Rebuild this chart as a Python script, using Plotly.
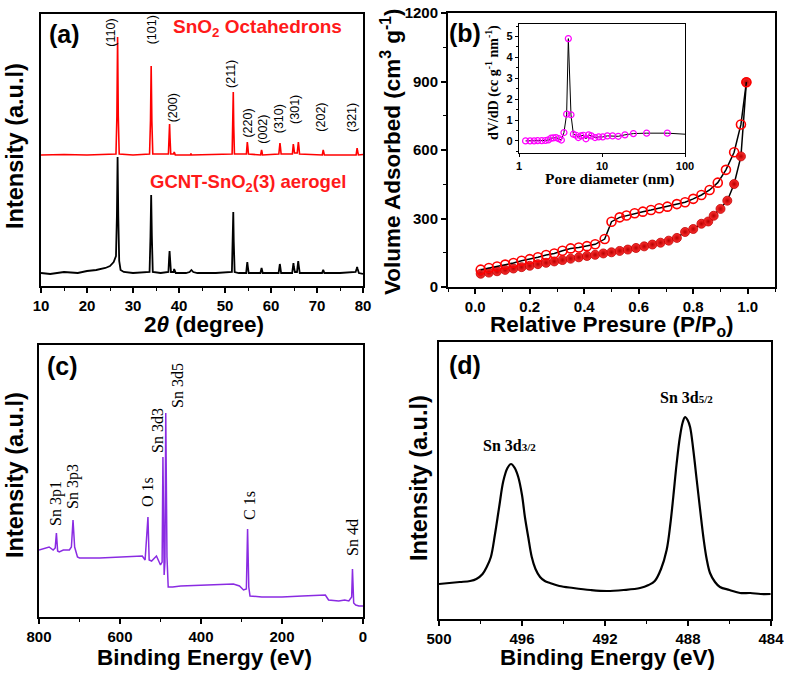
import plotly.graph_objects as go

W, H = 787, 673

# ---------------- (a) XRD ----------------
xrd_red_2theta = [10, 15, 20, 25, 26.3, 26.5, 26.65, 26.8, 27.0, 30, 33.6, 33.8, 33.95, 34.1, 34.3,
                  37.7, 37.85, 37.95, 38.05, 38.2, 38.85, 38.95, 39.05, 39.2, 42.5, 42.6, 42.7,
                  51.55, 51.7, 51.8, 51.9, 52.05, 54.65, 54.78, 54.85, 54.95, 55.1,
                  57.75, 57.85, 57.95, 58.05, 58.15, 61.7, 61.85, 61.95, 62.05, 62.2,
                  64.65, 64.78, 64.85, 64.95, 65.1, 65.7, 65.85, 65.95, 66.05, 66.2,
                  71.15, 71.25, 71.35, 71.45, 71.6, 78.5, 78.62, 78.72, 78.82, 79.0, 80]
xrd_red_int = [131, 131.5, 131, 131.5, 132, 170, 249, 170, 132, 131, 132, 165, 220, 165, 132,
               132, 148, 162, 148, 132, 132, 134, 133, 131, 131, 132.5, 131,
               132, 160, 194, 160, 132, 132, 140, 144, 140, 132,
               131, 134, 136, 134, 131, 132, 139, 143, 139, 132,
               132, 139, 142, 139, 133, 133, 140, 144, 140, 132,
               131, 134, 136, 134, 131, 131, 135, 138, 135, 131, 131.5]

xrd_blk_2theta = [10, 12, 15, 18, 20, 22, 24, 25, 25.8, 26.3, 26.5, 26.65, 26.8, 27.0, 27.3, 28, 30,
                  33.6, 33.8, 33.95, 34.1, 34.3, 36, 37.7, 37.85, 37.95, 38.05, 38.25, 38.85, 38.95, 39.1, 39.3,
                  41.5, 42.3, 42.7, 43.1, 44, 48, 51.5, 51.7, 51.8, 51.9, 52.1, 53,
                  54.6, 54.75, 54.85, 54.95, 55.15, 57.7, 57.85, 57.95, 58.05, 58.2,
                  61.65, 61.82, 61.92, 62.02, 62.2, 64.6, 64.78, 64.88, 64.98, 65.2,
                  65.65, 65.82, 65.92, 66.02, 66.25, 68, 71.1, 71.25, 71.35, 71.45, 71.6,
                  75, 78.4, 78.6, 78.72, 78.84, 79.1, 80]
xrd_blk_int = [13, 12, 14, 13, 15, 16, 18, 20, 24, 30, 70, 129, 70, 25, 16, 14, 13,
               14, 50, 91, 50, 14, 13, 14, 28, 35, 28, 14, 14, 17, 15, 13,
               13, 14, 16, 14, 13, 13, 14, 45, 74, 45, 14, 13,
               13, 20, 24, 20, 13, 13, 16, 18, 16, 13,
               13, 19, 22, 19, 13, 13, 19, 23, 19, 14,
               14, 21, 25, 21, 13, 13, 13, 15, 16, 15, 13,
               13, 14, 17, 19, 17, 13, 12]

xrd_labels = ["(110)", "(101)", "(200)", "(211)", "(220)", "(002)", "(310)", "(301)", "(202)", "(321)"]
xrd_label_x = [25.15, 34.2, 38.76, 51.3, 54.9, 58.2, 61.8, 65.2, 70.8, 77.6]
xrd_label_y = [253, 256, 178, 212, 163, 157, 167, 177, 169, 169]

# ---------------- (b) N2 isotherm ----------------
p_ads = [0.02, 0.05, 0.08, 0.11, 0.14, 0.17, 0.20, 0.23, 0.26, 0.29, 0.32, 0.35, 0.38, 0.41, 0.44,
         0.47, 0.50, 0.53, 0.56, 0.59, 0.62, 0.65, 0.68, 0.71, 0.74, 0.77, 0.80, 0.83, 0.855,
         0.875, 0.90, 0.925, 0.95, 0.975, 0.995]
v_ads = [58, 63, 69, 75, 81, 87, 93, 100, 106, 112, 118, 124, 130, 136, 141,
         147, 152, 158, 164, 171, 178, 186, 194, 203, 215, 241, 254, 277, 287,
         312, 342, 378, 451, 572, 897]
p_des = [0.02, 0.05, 0.08, 0.11, 0.14, 0.17, 0.20, 0.23, 0.26, 0.29, 0.32, 0.35, 0.38, 0.41, 0.44,
         0.475, 0.50, 0.53, 0.555, 0.585, 0.615, 0.645, 0.675, 0.705, 0.74, 0.77, 0.80, 0.83,
         0.86, 0.89, 0.92, 0.95, 0.975, 0.995]
v_des = [76, 83, 90, 98, 105, 115, 122, 130, 140, 147, 159, 169, 173, 179, 187,
         210, 286, 305, 313, 323, 330, 337, 345, 352, 363, 371, 386, 403,
         425, 457, 513, 590, 712, 897]

# inset: pore size distribution
pore_d = [1.20, 1.36, 1.52, 1.68, 1.88, 2.08, 2.26, 2.43, 2.59, 2.79, 3.01, 3.24, 3.48, 3.75, 3.93,
          4.23, 4.52, 4.86, 5.19, 5.58, 5.96, 6.41, 6.91, 7.43, 8.24, 9.12, 10.2, 11.6, 13.4,
          15.7, 18.9, 23.9, 34.5, 61.2, 100]
pore_dv = [0.0, 0.0, 0.0, 0.01, 0.01, 0.02, 0.05, 0.13, 0.14, 0.16, 0.11, 0.04, 0.40, 1.28, 4.90,
           1.25, 0.32, 0.27, 0.16, 0.24, 0.27, 0.10, 0.29, 0.24, 0.16, 0.19, 0.19, 0.24, 0.24,
           0.22, 0.29, 0.35, 0.37, 0.37, 0.32]
pore_marker_n = 34  # last value is the line end (no marker)

# ---------------- (c) XPS survey ----------------
xps_be = [800, 790, 775, 765, 760, 757, 754, 750, 740, 725, 720, 716, 712, 705, 700, 650, 600, 560,
          545, 538, 531, 528, 522, 510, 500, 496, 494, 491, 489, 487, 484, 481, 470, 450, 400, 350,
          320, 305, 295, 288, 285, 282, 279, 250, 200, 150, 100, 93, 85, 60, 45, 35, 28, 26, 23, 18,
          10, 0]
xps_int = [67, 68, 70, 67, 69, 84, 66, 65, 67, 67, 70, 97, 70, 60, 59, 59, 60, 61,
           61, 57, 100, 57, 56, 61, 52, 55, 160, 42, 55, 204, 60, 30, 30, 31, 32, 33,
           33, 31, 27, 28, 88, 30, 21, 20, 20, 21, 22, 22, 17, 16, 17, 16, 20, 48, 14, 12,
           11, 11]
xps_labels = ["Sn 3p1", "Sn 3p3", "O 1s", "Sn 3d3", "Sn 3d5", "C 1s", "Sn 4d"]
xps_label_px = [(56, 504), (73, 487), (148, 492), (158, 431), (177, 386), (249, 506), (352, 538)]

# ---------------- (d) Sn 3d ----------------
sn_be = [500.0, 499.5, 499.0, 498.5, 498.2, 497.9, 497.7, 497.5, 497.3, 497.1, 496.9, 496.7, 496.53,
         496.35, 496.18, 496.0, 495.86, 495.7, 495.53, 495.35, 495.13, 494.9, 494.65, 494.2, 493.53,
         492.7, 491.92, 491.1, 490.31, 489.9, 489.6, 489.3, 489.03, 488.85, 488.71, 488.55, 488.39,
         488.25, 488.14, 488.02, 487.9, 487.75, 487.58, 487.42, 487.26, 487.1, 486.94, 486.7, 486.46,
         486.0, 485.49, 485.0, 484.5, 484.02]
sn_int = [35, 36, 37, 38, 40, 45, 52, 62, 85, 112, 138, 151, 155,
          151, 142, 124, 102, 82, 62, 50, 42, 38, 36, 33, 31,
          29, 28, 29, 31, 34, 38, 50, 69, 95, 122, 155, 182,
          197, 202, 199, 192, 170, 139, 110, 82, 60, 46, 37, 32,
          29, 26, 26, 25, 25]

# ---------------- figure ----------------
def dx(a, b):
    return [a / W, b / W]

def dy(top, bottom):
    return [1 - bottom / H, 1 - top / H]

def pp(px, py):
    return px / W, 1 - py / H

SANS = "Liberation Sans, Arial, sans-serif"
SERIF = "Liberation Serif, Times New Roman, serif"
tickf = dict(family=SANS, size=15, color="black", weight="bold")

fig = go.Figure()

fig.add_trace(go.Scatter(x=xrd_red_2theta, y=xrd_red_int, mode="lines",
                         line=dict(color="#FF0000", width=1.6), xaxis="x", yaxis="y"))
fig.add_trace(go.Scatter(x=xrd_blk_2theta, y=xrd_blk_int, mode="lines",
                         line=dict(color="black", width=1.8), xaxis="x", yaxis="y"))

fig.add_trace(go.Scatter(x=p_ads, y=v_ads, mode="lines+markers",
                         line=dict(color="black", width=1.5),
                         marker=dict(symbol="circle", size=9, color="#FF3030",
                                     gradient=dict(type="radial", color="#B80000"),
                                     line=dict(color="#C00000", width=0.8)),
                         xaxis="x2", yaxis="y2"))
fig.add_trace(go.Scatter(x=p_des, y=v_des, mode="lines+markers",
                         line=dict(color="black", width=1.5),
                         marker=dict(symbol="circle-open", size=9, color="#FF0000",
                                     line=dict(width=1.6)),
                         xaxis="x2", yaxis="y2"))

fig.add_trace(go.Scatter(x=pore_d, y=pore_dv, mode="lines",
                         line=dict(color="black", width=1), xaxis="x3", yaxis="y3"))
fig.add_trace(go.Scatter(x=pore_d[:pore_marker_n], y=pore_dv[:pore_marker_n], mode="markers",
                         marker=dict(symbol="circle-open", size=6, color="#FF00FF",
                                     line=dict(width=1.2)),
                         xaxis="x3", yaxis="y3"))

fig.add_trace(go.Scatter(x=xps_be, y=xps_int, mode="lines",
                         line=dict(color="#8A2BE2", width=1.5), xaxis="x4", yaxis="y4"))

fig.add_trace(go.Scatter(x=sn_be, y=sn_int, mode="lines", line_shape="spline",
                         line=dict(color="black", width=2.2), xaxis="x5", yaxis="y5"))

base_ax = dict(showline=True, linecolor="black", linewidth=2, mirror=True,
               showgrid=False, zeroline=False, ticks="outside", ticklen=5,
               tickwidth=1.5, tickcolor="black", tickfont=tickf, automargin=False)
noy = dict(showline=True, linecolor="black", linewidth=2, mirror=True,
           showgrid=False, zeroline=False, ticks="", showticklabels=False, automargin=False)

fig.update_layout(
    width=W, height=H, margin=dict(l=0, r=0, t=0, b=0, autoexpand=False),
    paper_bgcolor="white", plot_bgcolor="white", showlegend=False,
    xaxis=dict(base_ax, domain=dx(41, 363), range=[10, 80], dtick=10, tick0=10,
               minor=dict(ticks="outside", ticklen=3, dtick=5, tickcolor="black", tickwidth=1.2),
               anchor="y"),
    yaxis=dict(noy, domain=dy(14, 286), range=[0, 272], anchor="x"),
    xaxis2=dict(base_ax, domain=dx(448, 775), range=[-0.1, 1.1], dtick=0.2, tick0=0,
                tickformat=".1f",
                minor=dict(ticks="outside", ticklen=3, dtick=0.1, tickcolor="black", tickwidth=1.2),
                anchor="y2"),
    yaxis2=dict(base_ax, domain=dy(13, 287), range=[0, 1200], dtick=300,
                minor=dict(ticks="outside", ticklen=3, dtick=150, tickcolor="black", tickwidth=1.2),
                anchor="x2"),
    xaxis3=dict(base_ax, domain=dx(519, 685), type="log", range=[0, 2], dtick=1,
                linewidth=1.3, ticklen=3, tickwidth=1,
                tickfont=dict(family=SANS, size=11, color="black", weight="bold"),
                anchor="y3"),
    yaxis3=dict(base_ax, domain=dy(24, 153), range=[-0.58, 5.6], dtick=1,
                linewidth=1.3, ticklen=3, tickwidth=1,
                tickfont=dict(family=SANS, size=11, color="black", weight="bold"),
                minor=dict(ticks="outside", ticklen=2, dtick=0.5, tickcolor="black", tickwidth=1),
                anchor="x3"),
    xaxis4=dict(base_ax, domain=dx(39, 363), range=[800, 0], dtick=200,
                minor=dict(ticks="outside", ticklen=3, dtick=100, tickcolor="black", tickwidth=1.2),
                anchor="y4"),
    yaxis4=dict(noy, domain=dy(345, 617), range=[0, 272], anchor="x4"),
    xaxis5=dict(base_ax, domain=dx(439, 771), range=[500, 484], dtick=4,
                minor=dict(ticks="outside", ticklen=3, dtick=2, tickcolor="black", tickwidth=1.2),
                anchor="y5"),
    yaxis5=dict(noy, domain=dy(342, 619), range=[0, 277], anchor="x5"),
)

ann = []

def add_text(text, px, py, size, family=SANS, color="black", angle=0, bold=True):
    x, y = pp(px, py)
    ann.append(dict(text=text, x=x, y=y, xref="paper", yref="paper", showarrow=False,
                    xanchor="center", yanchor="middle", textangle=angle,
                    font=dict(family=family, size=size, color=color,
                              weight="bold" if bold else "normal")))

# panel labels
add_text("(a)", 64, 34, 25)
add_text("(b)", 465, 33, 25)
add_text("(c)", 62, 366, 25)
add_text("(d)", 465, 365, 25)

# axis titles
add_text("Intensity (a.u.l)", 15, 146, 23.5, angle=-90)
add_text("2<i>θ</i> (degree)", 204, 324, 22.5)
add_text("Volume Adsorbed (cm<sup>3</sup> g<sup>-1</sup>)", 391, 152, 22.5, angle=-90)
add_text("Relative Presure (P/P<sub>o</sub>)", 612, 326, 22.5)
add_text("Intensity (a.u.l)", 15, 475, 23.5, angle=-90)
add_text("Binding Energy (eV)", 204, 657, 22.5)
add_text("Intensity (a.u.l)", 419, 478, 23.5, angle=-90)
add_text("Binding Energy (eV)", 607, 657, 22.5)

# legends (a)
add_text("SnO<sub>2</sub> Octahedrons", 257, 28, 19, color="#FF1A1A")
add_text("GCNT-SnO<sub>2</sub>(3) aerogel", 248, 183, 18.5, color="#FF1A1A")

# inset titles
add_text("Pore diameter (nm)", 609, 179, 15.5, family=SERIF)
add_text("dV/dD (cc g<sup>-1</sup> nm<sup>-1</sup>)", 492, 83, 14, family=SERIF, angle=-90)

# XRD peak labels
for t, xv, yv in zip(xrd_labels, xrd_label_x, xrd_label_y):
    ann.append(dict(text=t, x=xv, y=yv, xref="x", yref="y", showarrow=False,
                    textangle=-90, xanchor="center", yanchor="middle",
                    font=dict(family=SANS, size=12.5, color="black")))

# XPS labels
for t, (px, py) in zip(xps_labels, xps_label_px):
    add_text(t, px, py, 16, family=SERIF, angle=-90, bold=False)

add_text("Sn 3d<span style='font-size:11px'>3/2</span>", 510, 445, 16, family=SERIF)
add_text("Sn 3d<span style='font-size:11px'>5/2</span>", 686, 397, 16, family=SERIF)

fig.update_layout(annotations=ann)
fig.write_html("out.html", config={"displayModeBar": False},
               post_script="document.body.style.margin='0';document.body.style.overflow='hidden';")
